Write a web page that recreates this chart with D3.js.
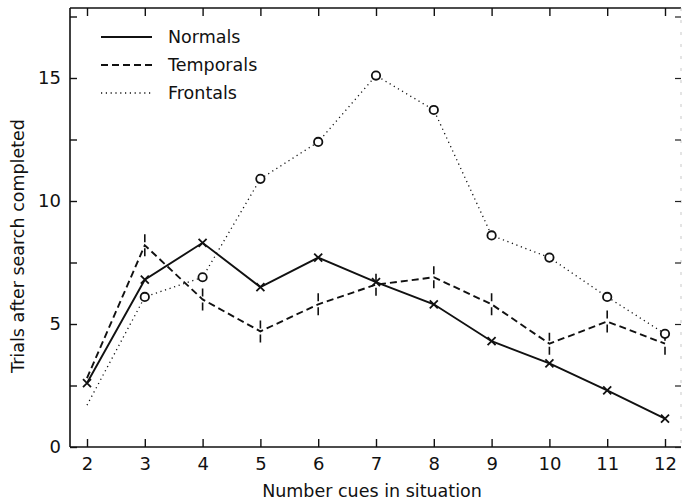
<!DOCTYPE html>
<html>
<head>
<meta charset="utf-8">
<script src="https://cdn.jsdelivr.net/npm/d3@7"></script>
<style>
  html, body { margin: 0; padding: 0; background: #fff; }
  svg { display: block; }
  text { font-family: "DejaVu Sans", "Liberation Sans", sans-serif; fill: #111; }
</style>
</head>
<body>
<svg id="chart" width="686" height="503"></svg>
<script>
// Number of cues in the situation (x categories)
const cues = [2, 3, 4, 5, 6, 7, 8, 9, 10, 11, 12];

// Mean trials after search completed, per group
const normals   = [2.6, 6.8, 8.3, 6.5, 7.7, 6.7, 5.8, 4.3, 3.4, 2.3, 1.15];
const temporals = [2.8, 8.2, 6.0, 4.7, 5.8, 6.6, 6.9, 5.8, 4.2, 5.1, 4.2];
const frontals  = [1.7, 6.1, 6.9, 10.9, 12.4, 15.1, 13.7, 8.6, 7.7, 6.1, 4.6];

const yTickLabels = [0, 5, 10, 15];
const yMinorTicks = [2.5, 7.5, 12.5, 17.5];

const svg = d3.select("#chart");

const frame = { left: 70, right: 681, top: 8, bottom: 447 };

const x = d3.scaleLinear().domain([2, 12]).range([87, 665]);
const y = d3.scaleLinear().domain([0, 15]).range([447, 78]);

// Frame: axes on the left and bottom, border on top and a faint one on the right
svg.append("line")
  .attr("x1", frame.left).attr("x2", frame.left)
  .attr("y1", frame.top).attr("y2", frame.bottom)
  .attr("stroke", "#111").attr("stroke-width", 1.6);
svg.append("line")
  .attr("x1", frame.left).attr("x2", frame.right)
  .attr("y1", frame.bottom).attr("y2", frame.bottom)
  .attr("stroke", "#111").attr("stroke-width", 1.6);
svg.append("line")
  .attr("x1", frame.left).attr("x2", frame.right)
  .attr("y1", frame.top).attr("y2", frame.top)
  .attr("stroke", "#111").attr("stroke-width", 1.4);
svg.append("line")
  .attr("x1", frame.right).attr("x2", frame.right)
  .attr("y1", frame.top).attr("y2", frame.bottom)
  .attr("stroke", "#bbb").attr("stroke-width", 0.8)
  .attr("stroke-dasharray", "3,9");

// Bottom axis: inward ticks, labels below
const xAxis = d3.axisBottom(x)
  .tickValues(cues)
  .tickSize(-8)
  .tickPadding(10)
  .tickFormat(d3.format("d"));
const gx = svg.append("g")
  .attr("transform", `translate(0,${frame.bottom})`)
  .call(xAxis);
gx.select(".domain").remove();
gx.selectAll(".tick line").attr("stroke", "#111").attr("stroke-width", 1.4);
gx.selectAll(".tick text").style("font-size", "18px").attr("fill", "#111");

// Top border ticks
const xTop = d3.axisTop(x).tickValues(cues).tickSize(-8).tickFormat("");
const gxt = svg.append("g")
  .attr("transform", `translate(0,${frame.top})`)
  .call(xTop);
gxt.select(".domain").remove();
gxt.selectAll(".tick line").attr("stroke", "#111").attr("stroke-width", 1.4);

// Left axis: inward ticks, labelled every 5
const allY = yTickLabels.concat(yMinorTicks).filter(v => y(v) >= frame.top);
const yAxis = d3.axisLeft(y)
  .tickValues(allY)
  .tickSize(-7)
  .tickPadding(9)
  .tickFormat(d => yTickLabels.includes(d) ? d3.format("d")(d) : "");
const gy = svg.append("g")
  .attr("transform", `translate(${frame.left},0)`)
  .call(yAxis);
gy.select(".domain").remove();
gy.selectAll(".tick line").attr("stroke", "#111").attr("stroke-width", 1.4);
gy.selectAll(".tick text").style("font-size", "18px").attr("fill", "#111");

// Right border ticks
const yRight = d3.axisRight(y).tickValues(allY).tickSize(-6).tickFormat("");
const gyr = svg.append("g")
  .attr("transform", `translate(${frame.right},0)`)
  .call(yRight);
gyr.select(".domain").remove();
gyr.selectAll(".tick line").attr("stroke", "#222").attr("stroke-width", 1.2);

// Axis titles
svg.append("text")
  .attr("x", 372).attr("y", 497)
  .attr("text-anchor", "middle")
  .style("font-size", "17.5px")
  .text("Number cues in situation");
svg.append("text")
  .attr("transform", "translate(24,246) rotate(-90)")
  .attr("text-anchor", "middle")
  .style("font-size", "17.5px")
  .text("Trials after search completed");

// Series lines
const series = [
  { name: "Normals",   values: normals,   dash: null,  width: 1.9 },
  { name: "Temporals", values: temporals, dash: "7,4", width: 1.9 },
  { name: "Frontals",  values: frontals,  dash: "1.2,3.6", width: 1.3 }
];

const line = d3.line()
  .x((d, i) => x(cues[i]))
  .y(d => y(d));

series.forEach(s => {
  svg.append("path")
    .datum(s.values)
    .attr("d", line)
    .attr("fill", "none")
    .attr("stroke", "#111")
    .attr("stroke-width", s.width)
    .attr("stroke-dasharray", s.dash);
});

// Markers: crosses for normals
svg.append("g").selectAll("path")
  .data(normals)
  .join("path")
  .attr("transform", (d, i) => `translate(${x(cues[i])},${y(d)})`)
  .attr("d", "M-4,-4L4,4M-4,4L4,-4")
  .attr("stroke", "#111").attr("stroke-width", 1.8);

// Markers: vertical bars for temporals
svg.append("g").selectAll("path")
  .data(temporals.slice(1))
  .join("path")
  .attr("transform", (d, i) => `translate(${x(cues[i + 1])},${y(d)})`)
  .attr("d", "M0,-11L0,-3M0,3L0,11")
  .attr("stroke", "#111").attr("stroke-width", 1.6);

// Markers: open circles for frontals
svg.append("g").selectAll("circle")
  .data(frontals.slice(1))
  .join("circle")
  .attr("cx", (d, i) => x(cues[i + 1]))
  .attr("cy", d => y(d))
  .attr("r", 4.2)
  .attr("fill", "#fff")
  .attr("stroke", "#111").attr("stroke-width", 1.8);

// Legend
const legend = svg.append("g");
series.forEach((s, i) => {
  const ly = 37 + i * 28;
  legend.append("line")
    .attr("x1", 101).attr("x2", 152)
    .attr("y1", ly).attr("y2", ly)
    .attr("stroke", "#111")
    .attr("stroke-width", s.width)
    .attr("stroke-dasharray", s.dash);
  legend.append("text")
    .attr("x", 168).attr("y", ly + 6)
    .style("font-size", "17.5px")
    .text(s.name);
});
</script>
</body>
</html>
